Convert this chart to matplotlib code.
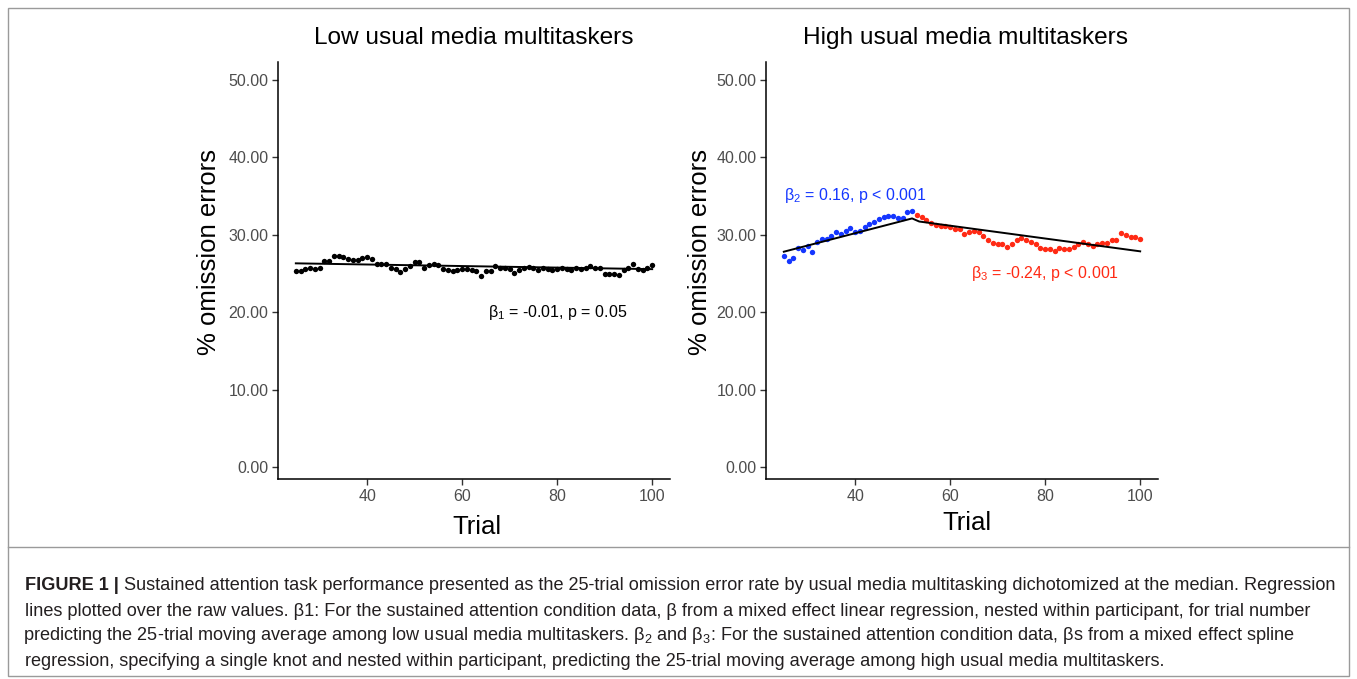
import numpy as np
import matplotlib
matplotlib.use("Agg")
import matplotlib.pyplot as plt
from matplotlib.lines import Line2D
from matplotlib.patches import Rectangle

plt.rcParams['font.family'] = ['Liberation Sans', 'DejaVu Sans']
plt.rcParams['mathtext.fontset'] = 'custom'
plt.rcParams['mathtext.rm'] = 'Liberation Sans'
plt.rcParams['mathtext.it'] = 'Liberation Sans:italic'
plt.rcParams['mathtext.bf'] = 'Liberation Sans:bold'

# ---------------- data ----------------
low_trials = list(range(25, 101))
low_values = [25.3, 25.3, 25.6, 25.7, 25.6, 25.75, 26.6, 26.6, 27.2, 27.3,
              27.1, 26.9, 26.7, 26.7, 27.0, 27.1, 26.8, 26.2, 26.2, 26.2,
              25.75, 25.6, 25.2, 25.6, 25.9, 26.5, 26.5, 25.7, 26.1, 26.2,
              26.1, 25.6, 25.45, 25.3, 25.45, 25.6, 25.6, 25.5, 25.3, 24.7,
              25.3, 25.3, 25.9, 25.7, 25.7, 25.6, 25.1, 25.45, 25.75, 25.8,
              25.7, 25.45, 25.75, 25.6, 25.5, 25.6, 25.75, 25.6, 25.45, 25.7,
              25.6, 25.75, 25.9, 25.75, 25.7, 24.9, 24.9, 24.9, 24.8, 25.45,
              25.7, 26.2, 25.6, 25.45, 25.7, 26.1]
low_fit_x = [25, 100]
low_fit_y = [26.3, 25.55]

high_pre_trials = list(range(25, 53))
high_pre_values = [27.3, 26.6, 26.95, 28.3, 28.0, 28.55, 27.8, 29.0, 29.5, 29.5,
                   29.8, 30.3, 30.05, 30.5, 30.8, 30.4, 30.5, 31.0, 31.35, 31.7,
                   32.0, 32.3, 32.45, 32.45, 32.1, 32.1, 32.9, 33.1]
high_post_trials = list(range(53, 101))
high_post_values = [32.6, 32.3, 31.85, 31.5, 31.3, 31.1, 31.1, 31.05, 30.7, 30.7,
                    30.1, 30.3, 30.5, 30.3, 29.85, 29.25, 28.9, 28.8, 28.8, 28.4,
                    28.8, 29.25, 29.55, 29.25, 29.1, 28.8, 28.25, 28.1, 28.1, 27.95,
                    28.25, 28.1, 28.1, 28.4, 28.8, 29.1, 28.8, 28.5, 28.8, 28.9,
                    28.9, 29.25, 29.25, 30.2, 30.0, 29.75, 29.7, 29.4]
high_fit_x = [25, 52, 53.5, 100]
high_fit_y = [27.8, 32.1, 31.7, 27.85]

y_ticks = [0, 10, 20, 30, 40, 50]
x_ticks = [40, 60, 80, 100]
titles = ["Low usual media multitaskers", "High usual media multitaskers"]

BLUE = '#1436FF'
RED = '#FF2A14'
GRAY = '#4D4D4D'

W, H = 1357, 679
fig = plt.figure(figsize=(W / 100, H / 100), dpi=100)

def fx(px):
    return px / W

def fy(py):
    return 1 - py / H

# outer frame & caption separator
fig.add_artist(Rectangle((fx(8), fy(676)), fx(1349) - fx(8), fy(8) - fy(676),
                         transform=fig.transFigure, fill=False,
                         edgecolor='#9a9a9a', lw=1.0))
fig.add_artist(Line2D([fx(8), fx(1349)], [fy(547), fy(547)],
                      transform=fig.transFigure, color='#9a9a9a', lw=1.0))

def style_axis(ax):
    ax.set_xlim(21.25, 103.75)
    ax.set_ylim(-1.55, 52.3)
    for s in ['top', 'right']:
        ax.spines[s].set_visible(False)
    for s in ['left', 'bottom']:
        ax.spines[s].set_color('black')
        ax.spines[s].set_linewidth(1.1)
    ax.set_yticks(y_ticks)
    ax.set_yticklabels([f"{v:.2f}" for v in y_ticks])
    ax.set_xticks(x_ticks)
    ax.tick_params(axis='both', colors='#333333', labelcolor=GRAY,
                   labelsize=11.5, length=4, width=1.0, pad=3)
    ax.patch.set_alpha(0)

ax1 = fig.add_axes([fx(278), fy(479), fx(670) - fx(278), fy(62) - fy(479)])
ax2 = fig.add_axes([fx(766), fy(479), fx(1158) - fx(766), fy(62) - fy(479)])

for ax in (ax1, ax2):
    style_axis(ax)

ax1.scatter(low_trials, low_values, s=15, color='black', linewidths=0, zorder=2)
ax1.plot(low_fit_x, low_fit_y, color='black', lw=1.4, zorder=3)
ax1.text(80.0, 20.0, r'β$_1$ = -0.01, p = 0.05', fontsize=11.5,
         color='black', ha='center', va='center')

ax2.scatter(high_pre_trials, high_pre_values, s=15, color=BLUE, linewidths=0, zorder=2)
ax2.scatter(high_post_trials, high_post_values, s=15, color=RED, linewidths=0, zorder=2)
ax2.plot(high_fit_x, high_fit_y, color='black', lw=1.4, zorder=3)
ax2.text(40.0, 35.0, r'β$_2$ = 0.16, p < 0.001', fontsize=11.5,
         color=BLUE, ha='center', va='center')
ax2.text(80.0, 25.0, r'β$_3$ = -0.24, p < 0.001', fontsize=11.5,
         color=RED, ha='center', va='center')

# titles and axis labels
fig.text(fx(474), fy(38), titles[0], fontsize=17.6, ha='center', va='center', color='black')
fig.text(fx(965), fy(38), titles[1], fontsize=17.6, ha='center', va='center', color='black')
fig.text(fx(209), fy(252), '% omission errors', fontsize=18.5, rotation=90,
         ha='center', va='center', color='black')
fig.text(fx(700), fy(252), '% omission errors', fontsize=18.5, rotation=90,
         ha='center', va='center', color='black')
fig.text(fx(477), fy(527), 'Trial', fontsize=18.5, ha='center', va='center', color='black')
fig.text(fx(967), fy(523), 'Trial', fontsize=18.5, ha='center', va='center', color='black')

# caption
cap_size = 13.05
cap_color = '#231F20'
cap_x0 = fx(25)
bold = fig.text(cap_x0, fy(586), 'FIGURE 1 | ', fontsize=cap_size, fontweight='bold',
                ha='left', va='center', color=cap_color)
fig.canvas.draw()
bb = bold.get_window_extent(renderer=fig.canvas.get_renderer())
fig.text(bb.x1 / fig.dpi / fig.get_figwidth(), fy(586),
         'Sustained attention task performance presented as the 25-trial omission error rate by usual media multitasking dichotomized at the median. Regression',
         fontsize=cap_size, ha='left', va='center', color=cap_color)
cap_lines = [
    'lines plotted over the raw values. β1: For the sustained attention condition data, β from a mixed effect linear regression, nested within participant, for trial number',
    r'predicting the 25-trial moving average among low usual media multitaskers. β$_2$ and β$_3$: For the sustained attention condition data, βs from a mixed effect spline',
    'regression, specifying a single knot and nested within participant, predicting the 25-trial moving average among high usual media multitaskers.',
]
cap_x_shift = [0, -2, 0]
for i, line in enumerate(cap_lines):
    fig.text(cap_x0 + fx(cap_x_shift[i]), fy(611 + 25 * i), line, fontsize=cap_size,
             ha='left', va='center', color=cap_color)

fig.savefig('out.png', dpi=100)
